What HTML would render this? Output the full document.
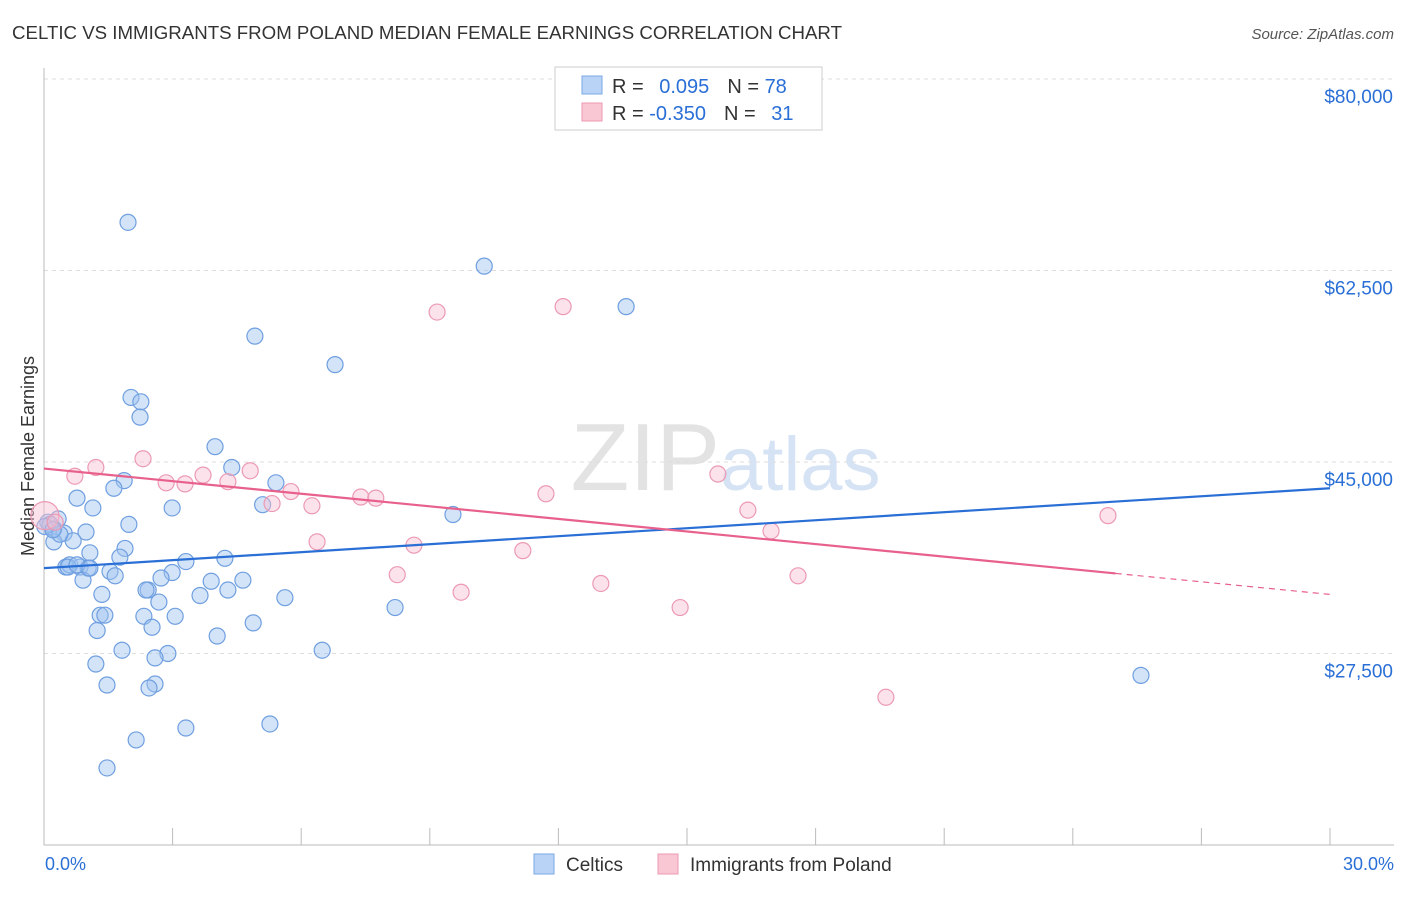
<!DOCTYPE html>
<html><head><meta charset="utf-8"><style>
body{margin:0;background:#fff;font-family:"Liberation Sans",sans-serif;}
svg text{font-family:"Liberation Sans",sans-serif;}
</style></head><body>
<svg id="chart" width="1406" height="892" xmlns="http://www.w3.org/2000/svg">
<text x="12" y="39" font-size="18" fill="#333" textLength="830" lengthAdjust="spacingAndGlyphs">CELTIC VS IMMIGRANTS FROM POLAND MEDIAN FEMALE EARNINGS CORRELATION CHART</text>
<text x="1394" y="39" font-size="15" fill="#555" font-style="italic" text-anchor="end">Source: ZipAtlas.com</text>
<text x="720" y="490" font-size="96" fill="#e3e3e3" text-anchor="end" font-family="Liberation Serif">ZIP</text>
<text x="720" y="490" font-size="76" fill="#d5e3f5">atlas</text>
<text transform="translate(34,456) rotate(-90)" font-size="18" fill="#333" text-anchor="middle">Median Female Earnings</text>
<g id="grid"></g><g id="marks"></g>
<g>
<rect x="555" y="67" width="267" height="63" fill="#fff" stroke="#ccc"/>
<rect x="582" y="76" width="20" height="18" fill="#b8d3f5" stroke="#7aa8e3"/>
<rect x="582" y="103" width="20" height="18" fill="#f9c6d4" stroke="#ee9ab2"/>
<text x="612" y="93" font-size="20" fill="#333">R = <tspan fill="#2a6fd6" dx="10">0.095</tspan><tspan dx="18">N = </tspan><tspan fill="#2a6fd6">78</tspan></text>
<text x="612" y="120" font-size="20" fill="#333">R = <tspan fill="#2a6fd6">-0.350</tspan><tspan dx="18">N = </tspan><tspan fill="#2a6fd6" dx="10">31</tspan></text>
</g>
<g>
<rect x="534" y="854" width="20" height="20" fill="#b8d3f5" stroke="#7aa8e3"/>
<text x="566" y="871" font-size="19" fill="#333">Celtics</text>
<rect x="658" y="854" width="20" height="20" fill="#f9c6d4" stroke="#ee9ab2"/>
<text x="690" y="871" font-size="19" fill="#333">Immigrants from Poland</text>
</g>
<text x="45" y="870" font-size="18" fill="#2a6fd6">0.0%</text>
<text x="1394" y="870" font-size="18" fill="#2a6fd6" text-anchor="end">30.0%</text>
</svg>
<script>
const yTicks=[80000,62500,45000,27500];
const yTickLabels=["$80,000","$62,500","$45,000","$27,500"];
const xTicks=[0,3,6,9,12,15,18,21,24,27,30];
const celticsX=[1.96,10.27,13.58,4.92,6.79,2.03,2.26,2.24,3.99,4.38,5.41,1.87,1.63,0.77,5.1,2.99,9.54,1.14,0.33,0.09,0.23,1.98,0.98,0.47,0.68,0.23,1.07,1.89,1.77,3.31,4.22,0.51,0.6,0.84,1.03,1.54,1.66,2.99,2.73,0.91,3.9,4.64,2.43,2.38,1.35,3.64,4.29,5.62,2.68,8.19,1.31,1.42,2.33,3.06,1.24,2.52,4.88,4.04,1.82,2.89,2.59,6.49,1.21,25.59,1.47,2.59,2.45,5.27,3.31,2.15,1.47,0.14,0.02,0.37,0.56,0.77,1.07,0.21];
const celticsY=[66900,62900,59200,56500,53900,50900,50500,49100,46400,44500,43100,43300,42600,41700,41100,40800,40200,40800,39800,39500,38900,39300,38600,38500,37800,37700,36700,37100,36300,35900,36200,35400,35600,35400,35300,35000,34600,34900,34400,34200,34100,34200,33300,33300,32900,32800,33300,32600,32200,31700,31000,31000,30900,30900,29600,29900,30300,29100,27800,27500,27100,27800,26540,25500,24620,24710,24350,21060,20690,19600,17040,39300,39100,38400,35400,35600,35300,38800];
const polandX=[0.02,1.21,0.72,2.31,2.85,3.29,3.71,4.29,4.81,5.32,5.76,6.25,7.39,7.74,6.37,8.63,8.24,9.17,12.11,9.73,11.17,11.71,12.99,14.84,15.72,16.42,16.96,17.59,19.64,24.82,0.26];
const polandY=[40100,44500,43700,45300,43100,43000,43800,43200,44200,41200,42300,41000,41800,41700,37700,37400,34700,58700,59200,33100,36900,42100,33900,31700,43900,40600,38700,34600,23500,40100,39500];
const celticsTrend=[35300,42600];
const polandTrend=[44400,32900];
const NS="http://www.w3.org/2000/svg";
const X0=44,X1=1330,YREF=462,PXPER=191.5/17500;
const xs=v=>X0+(v/30)*(X1-X0);
const ys=v=>YREF-(v-45000)*PXPER;
function mk(tag,attrs,parent){const e=document.createElementNS(NS,tag);for(const k in attrs)e.setAttribute(k,attrs[k]);parent.appendChild(e);return e;}
const grid=document.getElementById('grid'),marks=document.getElementById('marks');
yTicks.forEach((t,i)=>{
 const l=mk('line',{x1:44,x2:1394,y1:ys(t),y2:ys(t),stroke:'#ddd','stroke-dasharray':'4,4'},grid);
 
 
 const tx=mk('text',{x:1393,y:ys(t)+24,'font-size':19,fill:'#2a6fd6','text-anchor':'end'},grid);
 tx.textContent=yTickLabels[i];
 
 
});
const ax=mk('line',{x1:44,x2:1394,y1:845,y2:845,stroke:'#bbb'},grid);


const ay=mk('line',{x1:44,x2:44,y1:68,y2:845,stroke:'#bbb'},grid);


xTicks.forEach(t=>{
 const l=mk('line',{x1:xs(t),x2:xs(t),y1:828,y2:845,stroke:'#bbb'},grid);
 
 
});
celticsX.forEach((x,i)=>{
 const c=mk('circle',{cx:xs(x),cy:ys(celticsY[i]),r:8,fill:'rgba(160,196,240,0.45)',stroke:'#6f9fe0','stroke-width':1.2},marks);
 
 
});
polandX.forEach((x,i)=>{
 const c=mk('circle',{cx:xs(x),cy:ys(polandY[i]),r:i==0?14:8,fill:'rgba(248,190,208,0.45)',stroke:'#ec9ab4','stroke-width':1.2},marks);
 
 
});
const bl=mk('line',{x1:xs(0),y1:ys(celticsTrend[0]),x2:xs(30),y2:ys(celticsTrend[1]),stroke:'#2a6fd6','stroke-width':2.2},marks);


const pe=25,py=polandTrend[0]+(polandTrend[1]-polandTrend[0])*pe/30;
const pl=mk('line',{x1:xs(0),y1:ys(polandTrend[0]),x2:xs(pe),y2:ys(py),stroke:'#e8608c','stroke-width':2.2},marks);


const pd=mk('line',{x1:xs(pe),y1:ys(py),x2:xs(30),y2:ys(polandTrend[1]),stroke:'#e8608c','stroke-width':1.2,'stroke-dasharray':'6,5'},marks);


</script>
</body></html>
